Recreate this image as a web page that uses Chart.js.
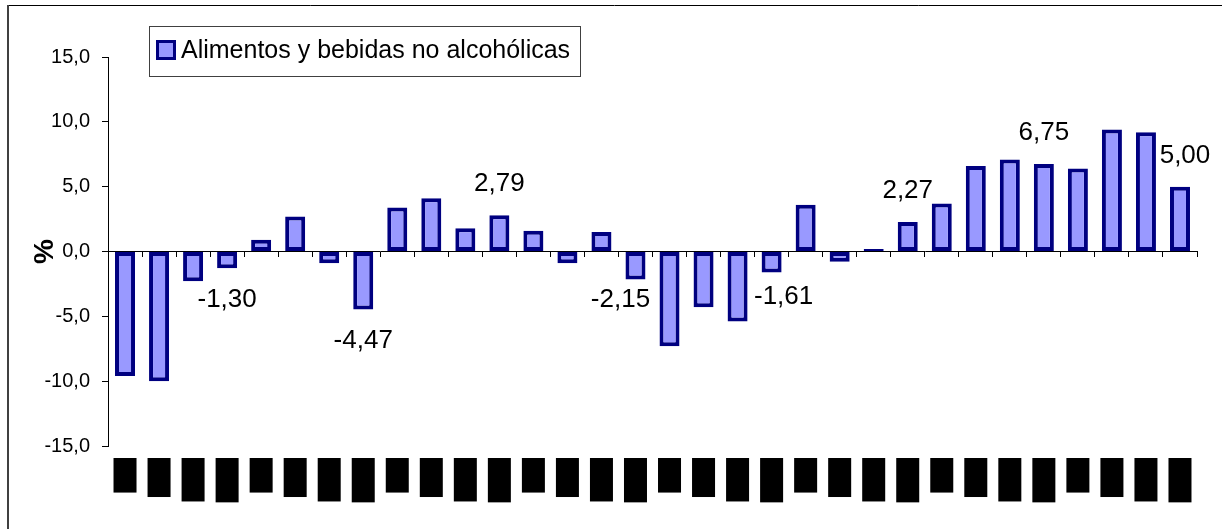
<!DOCTYPE html>
<html>
<head>
<meta charset="utf-8">
<script src="https://cdn.jsdelivr.net/npm/chart.js@4"></script>
<style>
  html, body { margin: 0; padding: 0; background: #fff; }
  #wrap { width: 1222px; height: 529px; }
</style>
</head>
<body>
<div id="wrap"><canvas id="chart" width="1222" height="529"></canvas></div>
<script>
// trimestres (las etiquetas del original aparecen tapadas)
const trimestres = [
  'I-99', 'II-99', 'III-99', 'IV-99',
  'I-00', 'II-00', 'III-00', 'IV-00',
  'I-01', 'II-01', 'III-01', 'IV-01',
  'I-02', 'II-02', 'III-02', 'IV-02',
  'I-03', 'II-03', 'III-03', 'IV-03',
  'I-04', 'II-04', 'III-04', 'IV-04',
  'I-05', 'II-05', 'III-05', 'IV-05',
  'I-06', 'II-06', 'III-06', 'IV-06'
];
const variacion = [
  -9.6, -10.0, -2.3, -1.30,
  0.9, 2.7, -0.9, -4.47,
  3.4, 4.1, 1.8, 2.79,
  1.6, -0.9, 1.5, -2.15,
  -7.3, -4.3, -5.4, -1.61,
  3.6, -0.8, 0.2, 2.27,
  3.7, 6.6, 7.1, 6.75,
  6.4, 9.4, 9.2, 5.00
];
const ticksY = [-15, -10, -5, 0, 5, 10, 15];
const serie = 'Alimentos y bebidas no alcohólicas';

const FONT = '"Liberation Sans", Arial, sans-serif';
const coma = (v, d) => v.toFixed(d).replace('.', ',');

// marco del gráfico
const marco = {
  id: 'marco',
  beforeDraw(chart) {
    const ctx = chart.ctx;
    ctx.save();
    ctx.fillStyle = '#fff';
    ctx.fillRect(0, 0, chart.width, chart.height);
    ctx.strokeStyle = '#000';
    ctx.lineWidth = 1;
    ctx.beginPath();
    ctx.moveTo(7, 5.5);
    ctx.lineTo(chart.width, 5.5);
    ctx.stroke();
    ctx.strokeStyle = '#404040';
    ctx.lineWidth = 2;
    ctx.beginPath();
    ctx.moveTo(8, 5);
    ctx.lineTo(8, chart.height);
    ctx.stroke();
    ctx.restore();
  }
};

// leyenda con recuadro, flotando sobre el área
const leyenda = {
  id: 'leyenda',
  afterDraw(chart) {
    const ctx = chart.ctx;
    const ds = chart.data.datasets[0];
    const x = chart.chartArea.left + 41, y = 26;
    ctx.save();
    ctx.fillStyle = '#fff';
    ctx.fillRect(x, y, 431, 50);
    ctx.strokeStyle = '#404040';
    ctx.lineWidth = 1;
    ctx.strokeRect(x + 0.5, y + 0.5, 431, 50);
    ctx.fillStyle = ds.borderColor;
    ctx.fillRect(x + 7, y + 14, 20, 20);
    ctx.fillStyle = ds.backgroundColor;
    ctx.fillRect(x + 10, y + 17, 14, 14);
    ctx.fillStyle = '#000';
    ctx.font = '25px ' + FONT;
    ctx.textBaseline = 'middle';
    ctx.fillText(ds.label, x + 32, y + 25);
    ctx.restore();
  }
};

// valores de cada cuarto trimestre
const etiquetas = {
  id: 'etiquetas',
  afterDatasetsDraw(chart, args, opts) {
    const ctx = chart.ctx;
    const meta = chart.getDatasetMeta(0);
    ctx.save();
    ctx.font = '26px ' + FONT;
    ctx.fillStyle = '#000';
    ctx.textAlign = 'center';
    ctx.textBaseline = 'middle';
    meta.data.forEach((bar, i) => {
      if (i % 4 !== 3) return;
      const v = variacion[i];
      const n = opts.nudge[i] || [0, 0];
      const y = bar.y + (v < 0 ? opts.gap : -opts.gap);
      ctx.fillText(coma(v, 2), bar.x + n[0], y + n[1]);
    });
    ctx.restore();
  }
};

// etiquetas del eje tapadas con un bloque negro, como en el original
const tapado = {
  id: 'tapado',
  afterDraw(chart, args, opts) {
    const s = chart.scales.x2;
    const f = s.options.ticks.font;
    const ctx = chart.ctx;
    ctx.save();
    ctx.font = f.size + 'px ' + FONT;
    ctx.fillStyle = '#000';
    s.ticks.forEach((t, i) => {
      const w = ctx.measureText(s.getLabelForValue(t.value)).width;
      const x = s.getPixelForTick(i);
      ctx.fillRect(x - opts.ancho / 2, s.top + opts.margen, opts.ancho, w + 2 * opts.relleno);
    });
    ctx.restore();
  }
};

new Chart(document.getElementById('chart'), {
  type: 'bar',
  data: {
    labels: trimestres,
    datasets: [{
      label: serie,
      data: variacion,
      backgroundColor: '#9999FF',
      borderColor: '#000080',
      borderWidth: 4,
      borderSkipped: false,
      barPercentage: 0.588,
      categoryPercentage: 1
    }]
  },
  plugins: [marco, etiquetas, tapado, leyenda],
  options: {
    responsive: false,
    animation: false,
    layout: { padding: { left: 8, right: 25, top: 57, bottom: 33 } },
    plugins: {
      legend: { display: false },
      tooltip: { enabled: false },
      etiquetas: { gap: 31, nudge: { 15: [-15, -11], 19: [12, -7], 31: [5, 0] } },
      tapado: { ancho: 23, margen: 12, relleno: 3.5 }
    },
    scales: {
      x: {
        position: { y: 0 },
        grid: { drawOnChartArea: false, drawTicks: true, tickLength: 5, color: '#000' },
        border: { color: '#000', width: 1 },
        ticks: { display: false }
      },
      x2: {
        type: 'category',
        position: 'bottom',
        grid: { display: false, drawTicks: false },
        border: { display: false },
        afterFit(s) { s.height = 50; },
        ticks: {
          autoSkip: false,
          minRotation: 90,
          maxRotation: 90,
          padding: 15.5,
          color: '#000',
          font: { family: FONT, size: 16 }
        }
      },
      y: {
        min: -15,
        max: 15,
        afterFit(s) { s.width = 100; },
        afterBuildTicks(s) { s.ticks = ticksY.map(v => ({ value: v })); },
        grid: { drawOnChartArea: false, tickLength: 6, color: '#000' },
        border: { color: '#000', width: 1 },
        title: {
          display: true,
          text: '%',
          color: '#000',
          font: { family: FONT, size: 28, weight: 'bold' },
          padding: { top: 20, bottom: 0 }
        },
        ticks: {
          padding: 12,
          color: '#000',
          font: { family: FONT, size: 20 },
          callback: v => coma(v, 1)
        }
      }
    }
  }
});
</script>
</body>
</html>
